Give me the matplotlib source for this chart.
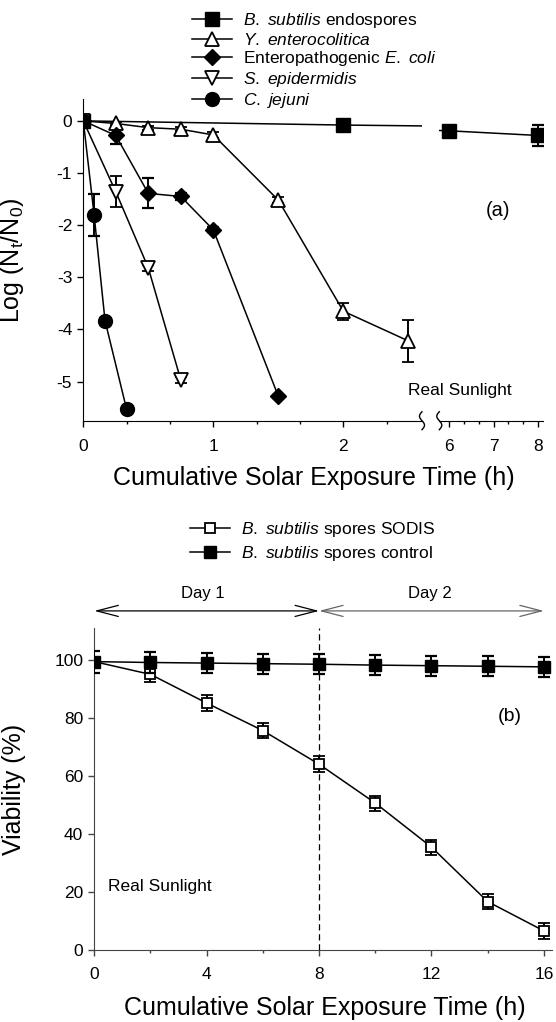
import numpy as np
import matplotlib
matplotlib.use('Agg')
import matplotlib.pyplot as plt

plt.rcParams['font.family'] = ['Liberation Sans', 'DejaVu Sans']
plt.rcParams['mathtext.fontset'] = 'custom'
plt.rcParams['mathtext.rm'] = 'Liberation Sans'
plt.rcParams['mathtext.it'] = 'Liberation Sans:italic'
plt.rcParams['axes.unicode_minus'] = False

# ---- panel (a) data: log reduction vs exposure time (h)
bs_t = [0, 2, 6, 8]
bs_y = [0, -0.08, -0.19, -0.28]
bs_e = [0.03, 0.05, 0.09, 0.2]

ye_t = [0, 0.25, 0.5, 0.75, 1.0, 1.5, 2.0, 2.5]
ye_y = [0, -0.05, -0.13, -0.16, -0.27, -1.52, -3.65, -4.22]
ye_e = [0.03, 0.03, 0.04, 0.04, 0.05, 0.06, 0.16, 0.4]

ec_t = [0, 0.25, 0.5, 0.75, 1.0, 1.5]
ec_y = [0, -0.28, -1.39, -1.45, -2.09, -5.28]
ec_e = [0.03, 0.16, 0.29, 0.06, 0.05, 0.03]

se_t = [0, 0.25, 0.5, 0.75]
se_y = [0, -1.36, -2.82, -4.97]
se_e = [0.03, 0.3, 0.05, 0.05]

cj_t = [0, 0.083, 0.167, 0.333]
cj_y = [0, -1.8, -3.83, -5.53]
cj_e = [0.03, 0.4, 0.05, 0.05]

# ---- panel (b) data: viability (%) vs time (h)
b_t = [0, 2, 4, 6, 8, 10, 12, 14, 16]
sodis = [99.5, 95.1, 85.2, 75.7, 64.1, 50.7, 35.5, 16.7, 6.6]
sodis_e = [3.8, 2.8, 2.7, 2.6, 2.7, 2.6, 2.6, 2.6, 2.8]
control = [99.5, 99.2, 99.0, 98.8, 98.6, 98.3, 98.1, 97.9, 97.7]
control_e = [3.8, 3.6, 3.5, 3.5, 3.5, 3.4, 3.4, 3.4, 3.5]

W, H = 556, 1022
fig = plt.figure(figsize=(W / 100, H / 100), dpi=100)


def fx(px):
    return px / W


def fy(py):
    return 1 - py / H


lw = 1.1
eb = dict(color='black', lw=lw, elinewidth=1.4, capsize=4.3, capthick=1.6)

# two axes for the broken x axis
a_bot, a_top = 420.7, 99.5
ax1 = fig.add_axes([fx(83.3), fy(a_bot), fx(422 - 83.3), (a_bot - a_top) / H])
ax2 = fig.add_axes([fx(439.3), fy(a_bot), fx(543.3 - 439.3), (a_bot - a_top) / H])

handles = []
for ax in (ax1, ax2):
    h1 = ax.errorbar(bs_t, bs_y, yerr=bs_e, marker='s', ms=9.5, mfc='black', mec='black', **eb)
    h2 = ax.errorbar(ye_t, ye_y, yerr=ye_e, marker='^', ms=10.5, mfc='white', mec='black', mew=1.3, **eb)
    h3 = ax.errorbar(ec_t, ec_y, yerr=ec_e, marker='D', ms=8.5, mfc='black', mec='black', **eb)
    h4 = ax.errorbar(se_t, se_y, yerr=se_e, marker='v', ms=10.5, mfc='white', mec='black', mew=1.3, **eb)
    h5 = ax.errorbar(cj_t, cj_y, yerr=cj_e, marker='o', ms=10, mfc='black', mec='black', **eb)
    if ax is ax1:
        handles = [h1[0], h2[0], h3[0], h4[0], h5[0]]
    ax.set_ylim(-5.75, 0.41)
    for s in ('top', 'right'):
        ax.spines[s].set_visible(False)
    ax.tick_params(direction='out', length=4.5, width=1, labelsize=12.5)
    ax.tick_params(axis='x', pad=9)
    ax.tick_params(which='minor', direction='out', length=2.5, width=1)

ax1.set_xlim(0, 2.605)
ax1.set_xticks([0, 1, 2])
ax1.set_xticks([1 / 3, 2 / 3, 4 / 3, 5 / 3, 7 / 3], minor=True)
ax1.set_yticks([0, -1, -2, -3, -4, -5])
ax1.set_ylabel(r'Log (N$_\mathrm{t}$/N$_\mathrm{0}$)', fontsize=18)
ax1.yaxis.set_label_coords(-0.168, 0.5)

ax2.set_xlim(5.79, 8.11)
ax2.set_xticks([6, 7, 8])
ax2.set_xticks([6 + 1 / 3, 6 + 2 / 3, 7 + 1 / 3, 7 + 2 / 3], minor=True)
ax2.spines['left'].set_visible(False)
ax2.set_yticks([])

# break marks on the x axis
t = np.linspace(-1, 1, 40)
for bx in (422, 439.3):
    fig.add_artist(plt.Line2D(fx(bx - 2.5 * np.sin(np.pi * t)), fy(a_bot - 9 * t),
                              color='black', lw=1, transform=fig.transFigure))

fig.text(fx(498), fy(210), '(a)', fontsize=14.5, ha='center', va='center')
fig.text(fx(460.3), fy(390), 'Real Sunlight', fontsize=12.5, ha='center', va='center')
fig.text(fx(313.5), fy(478), 'Cumulative Solar Exposure Time (h)', fontsize=18, ha='center', va='center')

labels_a = [r'$\mathit{B.\ subtilis}$ endospores', r'$\mathit{Y.\ enterocolitica}$',
            r'Enteropathogenic $\mathit{E.\ coli}$', r'$\mathit{S.\ epidermidis}$',
            r'$\mathit{C.\ jejuni}$']
fig.legend(handles, labels_a, loc='upper left', bbox_to_anchor=(fx(191.5), fy(11)),
           frameon=False, fontsize=12.5, handlelength=2.33, handletextpad=0.62,
           labelspacing=0.1, borderpad=0, borderaxespad=0)

# ---- panel (b)
b_bot, b_top = 950, 628.3
bx_ = fig.add_axes([fx(94.3), fy(b_bot), fx(458), (b_bot - b_top) / H])
hs = bx_.errorbar(b_t, sodis, yerr=sodis_e, marker='s', ms=7.5, mfc='white', mec='black', mew=1.3,
                  zorder=3, **eb)
hc = bx_.errorbar(b_t, control, yerr=control_e, marker='s', ms=8, mfc='black', mec='black',
                  zorder=4, **eb)
bx_.axvline(8, color='black', lw=0.9, ls=(0, (5, 3)), zorder=1)
bx_.set_xlim(0, 16.3)
bx_.set_ylim(0, 111)
bx_.set_xticks([0, 4, 8, 12, 16])
bx_.set_xticks([2, 6, 10, 14], minor=True)
bx_.set_yticks([0, 20, 40, 60, 80, 100])
for s in ('top', 'right'):
    bx_.spines[s].set_visible(False)
for s in ('left', 'bottom'):
    bx_.spines[s].set_color('#444444')
bx_.tick_params(direction='out', length=4.5, width=1, labelsize=12.5, color='#444444')
bx_.tick_params(axis='x', pad=8)
bx_.tick_params(which='minor', direction='out', length=2.5, width=1, color='#444444')
bx_.set_ylabel('Viability (%)', fontsize=18)
bx_.yaxis.set_label_coords(-0.149, 0.5)

arrow_kw = dict(arrowstyle='<->,head_length=1.55,head_width=0.4', shrinkA=0, shrinkB=0,
                mutation_scale=10, lw=0.9)
bx_.annotate('', xy=(0, 117), xytext=(8, 117), annotation_clip=False,
             arrowprops=dict(color='black', **arrow_kw))
bx_.annotate('', xy=(8, 117), xytext=(16, 117), annotation_clip=False,
             arrowprops=dict(color='#666666', **arrow_kw))
bx_.text(3.87, 123, 'Day 1', fontsize=12, ha='center', va='center')
bx_.text(11.95, 123, 'Day 2', fontsize=12, ha='center', va='center')
bx_.text(14.8, 80.4, '(b)', fontsize=14, ha='center', va='center')
bx_.text(0.48, 22, 'Real Sunlight', fontsize=12.5, ha='left', va='center')

fig.text(fx(324.5), fy(1008), 'Cumulative Solar Exposure Time (h)', fontsize=18, ha='center', va='center')

fig.legend([hs[0], hc[0]],
           [r'$\mathit{B.\ subtilis}$ spores SODIS', r'$\mathit{B.\ subtilis}$ spores control'],
           loc='upper left', bbox_to_anchor=(fx(190), fy(520)),
           frameon=False, fontsize=12.5, handlelength=2.33, handletextpad=0.62,
           labelspacing=0.3, borderpad=0, borderaxespad=0)

fig.savefig('out.png', dpi=100)
